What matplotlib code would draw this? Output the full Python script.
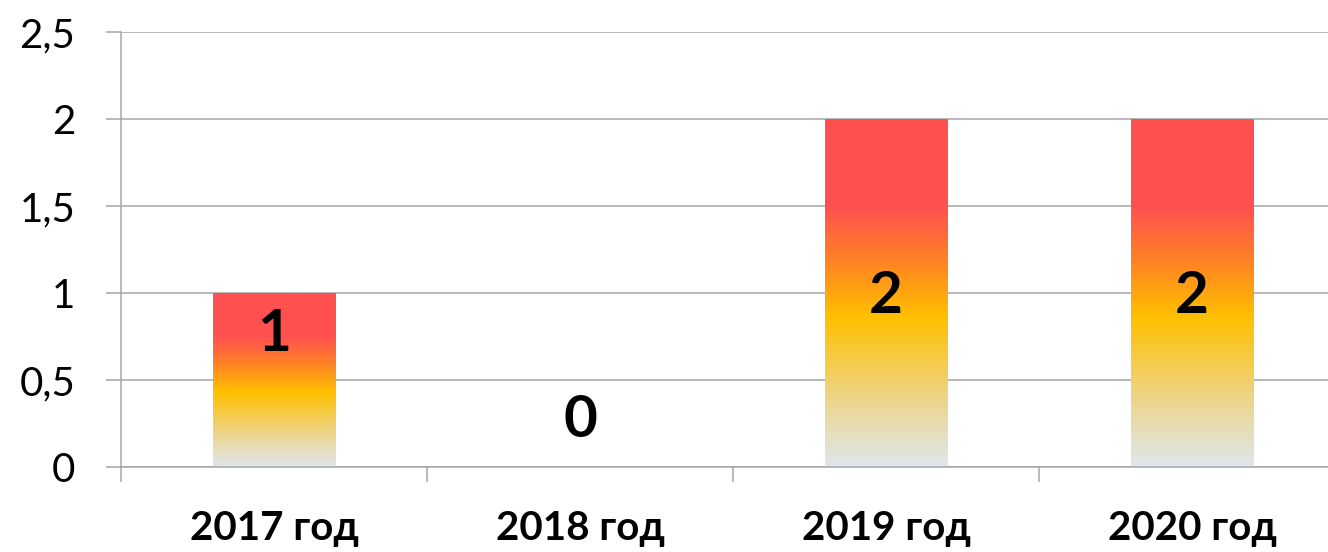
import matplotlib.pyplot as plt
import numpy as np
from matplotlib.colors import LinearSegmentedColormap

categories = ["2017 год", "2018 год", "2019 год", "2020 год"]
values = [1, 0, 2, 2]
value_labels = ["1", "0", "2", "2"]
label_pos = [0.76, 0.27, 0.98, 0.98]   # where the data labels sit (data units)

yticks = [0, 0.5, 1, 1.5, 2, 2.5]
ytick_labels = ["0", "0,5", "1", "1,5", "2", "2,5"]

grid_col = "#A6A6A6"
plt.rcParams['font.family'] = ['Lato', 'DejaVu Sans']

# bottom -> top gradient of each bar
grad = LinearSegmentedColormap.from_list("bar", [
    (0.00, "#DFE6EE"),
    (0.15, "#EAD9A2"),
    (0.43, "#FFC000"),
    (0.59, "#FF8424"),
    (0.75, "#FF5050"),
    (1.00, "#FF5050"),
])

fig = plt.figure(figsize=(13.28, 5.52), dpi=100)
ax = fig.add_axes([121 / 1328, 85 / 552, 1224 / 1328, 435 / 552])

x = np.arange(len(categories))
bars = ax.bar(x, values, width=0.4, color="none", zorder=2)
ramp = np.linspace(0, 1, 256).reshape(-1, 1)
for b in bars:
    h = b.get_height()
    if h <= 0:
        continue
    x0 = b.get_x()
    ax.imshow(ramp, cmap=grad, origin="lower", aspect="auto",
              extent=[x0, x0 + b.get_width(), 0, h], zorder=2,
              interpolation="bilinear")

for xi, lab, yp in zip(x, value_labels, label_pos):
    ax.text(xi, yp, lab, ha="center", va="center", fontsize=42,
            fontweight="bold", color="black", zorder=3)

ax.set_xlim(-0.5, len(categories) - 0.5)
ax.set_ylim(0, 2.5)
ax.set_yticks(yticks)
ax.set_yticklabels(ytick_labels, fontsize=29)
ax.yaxis.grid(True, color=grid_col, linewidth=1.1, zorder=1)
ax.set_axisbelow(True)

ax.set_xticks(x)
ax.set_xticklabels(categories, fontsize=29, fontweight="bold")
ax.set_xticks(np.arange(-0.5, len(categories), 1), minor=True)
ax.tick_params(axis="x", which="major", length=0, pad=31)
ax.tick_params(axis="x", which="minor", length=11, width=1.1, color=grid_col)
ax.tick_params(axis="y", length=11, width=1.1, color=grid_col, pad=22)

for s in ["top", "right"]:
    ax.spines[s].set_visible(False)
for s in ["left", "bottom"]:
    ax.spines[s].set_color(grid_col)
    ax.spines[s].set_linewidth(1.1)

fig.savefig("out.png", dpi=100)
